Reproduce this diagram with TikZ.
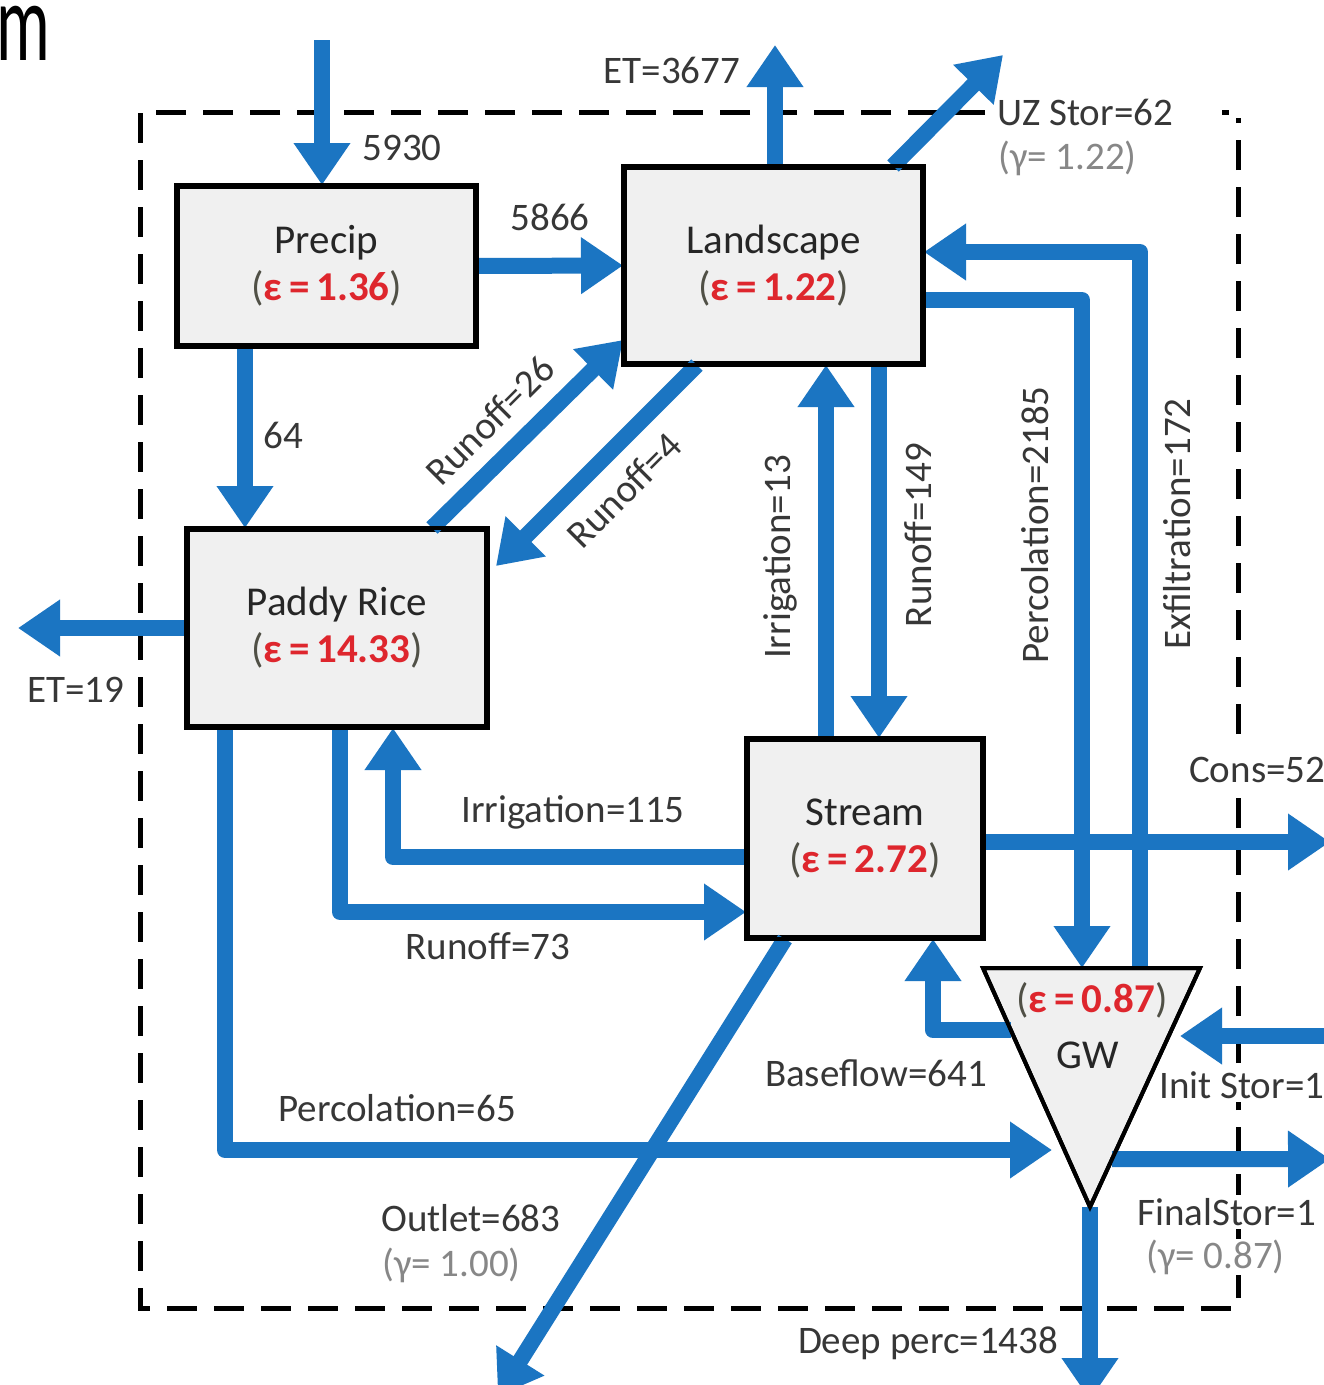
\documentclass[tikz,border=0pt]{standalone}
\usepackage{fontspec}
\setmainfont{Carlito}
\usetikzlibrary{arrows.meta,calc}
\definecolor{flowblue}{RGB}{27,117,194}
\definecolor{boxfill}{RGB}{240,240,240}
\definecolor{epsred}{RGB}{222,38,45}
\definecolor{labelgray}{RGB}{55,55,55}
\definecolor{gammagray}{RGB}{135,135,135}
\definecolor{parengray}{RGB}{80,80,70}
\newcommand{\epsval}[1]{{\color{parengray}(}{\color{epsred}\bfseries ε\,=\,#1}{\color{parengray})}}
\begin{document}
\begin{tikzpicture}[x=1pt,y=-1pt,
  flow/.style={draw=flowblue, line width=16pt, line join=round, -{Triangle[length=42pt,width=54pt]}},
  box/.style={draw=black, line width=4pt, fill=boxfill, align=center, font=\fontsize{41}{47}\selectfont, text=black!85, inner sep=0pt},
  lbl/.style={font=\fontsize{39}{46}\selectfont, text=labelgray, inner sep=1pt},
  wlbl/.style={lbl, fill=white, inner sep=3pt},
  glbl/.style={font=\fontsize{39}{46}\selectfont, text=gammagray, inner sep=1pt},
  frame/.style={draw=black, line width=5pt, dash pattern=on 30pt off 17pt}
]
\useasboundingbox (0,0) rectangle (1324,1385);
\fill[white] (0,0) rectangle (1324,1385);

% cropped heading fragment
\node[anchor=base west, font=\fontsize{112}{112}\selectfont, xscale=0.6, inner sep=0pt, text=black] (mfrag) at (-4,60) {m};

% dashed system boundary
\coordinate (frTR) at (1238,112);
\coordinate (frBL) at (140,1308);
\draw[frame] (985,112) -- (frBL |- frTR) -- (frBL) -- (frTR |- frBL) -- (1238,118);
\draw[black, line width=5pt] (1222,112) -- (1229,112);

% labels that sit on the boundary
\node[wlbl, anchor=west] (uzl) at (994,112) {UZ Stor=62};
\node[glbl, anchor=west, fill=white] (uzg) at (997,158) {(γ= 1.22)};
\node[wlbl, anchor=west, inner ysep=12pt] (consl) at (1186,770) {Cons=52};
\node[wlbl, anchor=west] (initl) at (1156,1085) {Init Stor=1};
\node[wlbl, anchor=west] (finl) at (1134,1212) {FinalStor=1};
\node[glbl, anchor=west, fill=white] (fing) at (1145,1257) {(γ= 0.87)};

% boxes
\node[box, minimum width=297pt, minimum height=158pt] (precip) at (326.5,266) {Precip\\ \epsval{1.36}};
\node[box, minimum width=297pt, minimum height=195pt] (land) at (773.5,265.5) {Landscape\\ \epsval{1.22}};
\node[box, minimum width=298pt, minimum height=196pt] (paddy) at (337,628) {Paddy Rice\\ \epsval{14.33}};
\node[box, minimum width=234pt, minimum height=197pt] (stream) at (865,838.5) {Stream\\ \epsval{2.72}};

% GW triangle
\coordinate (gwTL) at (983,968);
\coordinate (gwTR) at (1200,968);
\coordinate (gwB) at (1090,1207);
\draw[line width=4pt, fill=boxfill, line join=miter] (gwTL) -- (gwTR) -- (gwB) -- cycle;
\node[font=\fontsize{41}{47}\selectfont, inner sep=0pt] (gweps) at (1092,1000) {\epsval{0.87}};
\node[font=\fontsize{41}{47}\selectfont, text=black!85, inner sep=0pt] (gwname) at (1088,1055) {GW};

% free ends
\coordinate (rainin) at (322,40);
\coordinate (etout) at (775,45);
\coordinate (uzout) at (1003,55);
\coordinate (et19) at (18,628);
\coordinate (outlet) at (498,1396);
\coordinate (cons) at (1330,842);
\coordinate (initin) at (1330,1036);
\coordinate (gwinit) at (1180,1036);
\coordinate (gwin65) at (1052,1150);
\coordinate (finout) at (1330,1159);
\coordinate (deepout) at (1090,1400);

% flows
\draw[flow] (rainin) -- (rainin |- precip.north);
\draw[flow] (precip.east) -- (land.west);
\draw[flow] (245,0 |- precip.south) -- (245,0 |- paddy.north);
\draw[flow] (etout |- land.north) -- (etout);
\draw[flow] (893,0 |- land.north) -- (uzout);
\draw[flow] (432,0 |- paddy.north) -- (land.west |- 0,340);
\draw[flow] (697,0 |- land.south) -- ($(paddy.east |- 0,566)+(8,0)$);
\draw[flow] (826,0 |- stream.north) -- (826,0 |- land.south);
\draw[flow] (879,0 |- land.south) -- (879,0 |- stream.north);
\draw[flow] (land.east |- 0,300) -| (1082,0 |- gwTL);
\draw[flow] (1140,0 |- gwTL) |- (land.east |- 0,252);
\draw[flow] (paddy.west) -- (et19);
\draw[flow] (stream.west |- 0,857) -| (393,0 |- paddy.south);
\draw[flow] (340,0 |- paddy.south) |- (stream.west |- 0,912);
\draw[flow] (225,0 |- paddy.south) |- (gwin65);
\draw[flow] (785,0 |- stream.south) -- (outlet);
\draw[flow] (stream.east |- cons) -- (cons);
\draw[flow] ($(gwTL)!0.26!(gwB)$) -| (933,0 |- stream.south);
\draw[flow] (initin) -- (gwinit);
\draw[flow] ($(gwTR)!0.8!(gwB)$) -- (finout |- 0,1159);
\draw[flow] (gwB) -- (deepout);

% redraw box borders over arrow tips
\draw[line width=4pt] (precip.north west) rectangle (precip.south east);
\draw[line width=4pt] (land.north west) rectangle (land.south east);
\draw[line width=4pt] (paddy.north west) rectangle (paddy.south east);
\draw[line width=4pt] (stream.north west) rectangle (stream.south east);
\draw[line width=4pt, line join=miter] (gwTL) -- (gwTR) -- (gwB) -- cycle;

% flow labels
\node[lbl] (l5930) at (402,148) {5930};
\node[lbl] (l5866) at (550,217) {5866};
\node[lbl] (l64) at (283,435) {64};
\node[lbl] (let) at (672,70) {ET=3677};
\node[lbl] (let19) at (76,690) {ET=19};
\node[lbl, rotate=45] (lr26) at (490,420) {Runoff=26};
\node[lbl, rotate=45] (lr4) at (624,490) {Runoff=4};
\node[lbl, rotate=90] (li13) at (780,557) {Irrigation=13};
\node[lbl, rotate=90] (lr149) at (918,535) {Runoff=149};
\node[lbl, rotate=90] (lp2185) at (1035,525) {Percolation=2185};
\node[lbl, rotate=90] (lex) at (1177,524) {Exfiltration=172};
\node[lbl] (li115) at (573,812) {Irrigation=115};
\node[lbl] (lr73) at (488,946) {Runoff=73};
\node[lbl] (lp65) at (397,1108) {Percolation=65};
\node[lbl] (lbase) at (876,1073) {Baseflow=641};
\node[lbl, anchor=west] (lout) at (380,1218) {Outlet=683};
\node[glbl, anchor=west] (loutg) at (381,1265) {(γ= 1.00)};
\node[lbl] (ldeep) at (928,1343) {Deep perc=1438};
\end{tikzpicture}
\end{document}
